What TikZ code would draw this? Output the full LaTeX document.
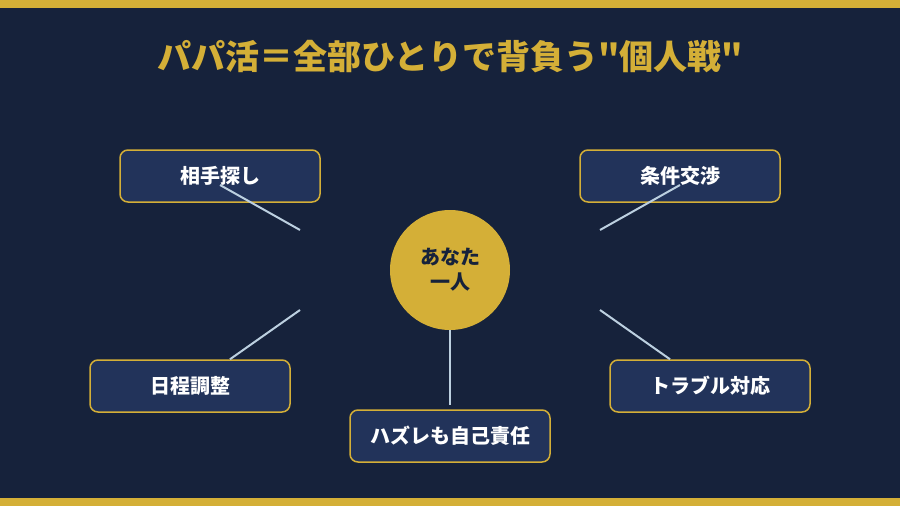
\documentclass[tikz,border=0pt]{standalone}
\usepackage{fontspec}
\setmainfont{Noto Sans CJK JP}[Ligatures=TeXOff]
\definecolor{bgnavy}{HTML}{16223B}
\definecolor{boxnavy}{HTML}{22335A}
\definecolor{gold}{HTML}{D4AF37}
\definecolor{spokeblue}{HTML}{BCD0E0}
\tikzset{
  taskbox/.style={draw=gold, line width=1.5pt, fill=boxnavy, rounded corners=8pt,
    minimum width=200pt, minimum height=52pt, text=white,
    font=\fontsize{20}{24}\selectfont\bfseries},
  spoke/.style={draw=spokeblue, line width=2pt},
}

\begin{document}
\begin{tikzpicture}[x=1pt,y=-1pt]
    % Background and gold bars
    \useasboundingbox (0,0) rectangle (900,506);
    \fill[bgnavy] (0,0) rectangle (900,506);
    \fill[gold] (0,0) rectangle (900,8);
    \fill[gold] (0,498) rectangle (900,506);
    % Title
    \node[text=gold, font=\fontsize{34}{40}\selectfont\bfseries] (title) at (450,57) {パパ活＝全部ひとりで背負う"個人戦"};
    % Center
    \node[circle, fill=gold, minimum size=120pt, inner sep=0pt, align=center,
      text=bgnavy, font=\fontsize{20}{25}\selectfont\bfseries] (anata) at (450,270) {あなた\\一人};
    % Tasks
    \node[taskbox] (sagashi) at (220,176) {相手探し};
    \node[taskbox] (kosho) at (680,176) {条件交渉};
    \node[taskbox] (nittei) at (190,386) {日程調整};
    \node[taskbox] (trouble) at (710,386) {トラブル対応};
    \node[taskbox] (hazure) at (450,436) {ハズレも自己責任};
    % Spokes
    \coordinate (s1) at (300,230);
    \coordinate (s2) at (600,230);
    \coordinate (s3) at (300,310);
    \coordinate (s4) at (600,310);
    \draw[spoke] (s1) -- ([yshift=-9pt]sagashi.center);
    \draw[spoke] (s2) -- ([yshift=-9pt]kosho.center);
    \draw[spoke] (s3) -- ([xshift=40pt]nittei.north);
    \draw[spoke] (s4) -- ([xshift=-40pt]trouble.north);
    \draw[spoke] (anata.south) -- ([yshift=4pt]hazure.north);
\end{tikzpicture}
\end{document}
